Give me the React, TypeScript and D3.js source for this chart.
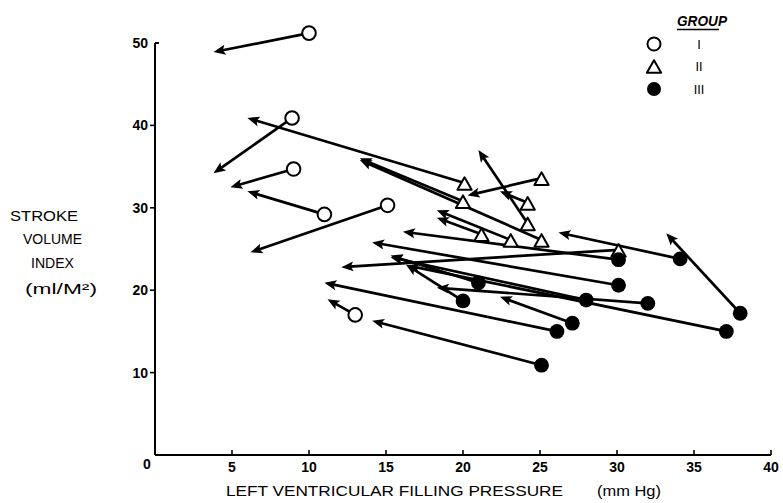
import React from "react";
import * as d3 from "d3";

// Group I (open circles): [pressure, SVI] start -> end
const groupIFrom: [number, number][] = [
  [10, 51.2], [8.9, 40.9], [9, 34.7], [11, 29.2], [15.1, 30.3], [13, 17],
];
const groupITo: [number, number][] = [
  [3.8, 48.9], [3.8, 34.2], [4.9, 32.5], [6, 32], [6.2, 24.6], [11.2, 18.9],
];
// Group II (open triangles)
const groupIIFrom: [number, number][] = [
  [20.1, 33], [25.1, 33.6], [20, 30.8], [24.2, 30.6], [24.2, 28.1],
  [21.2, 26.8], [23.1, 26.1], [25.1, 26.1], [30.1, 24.9],
];
const groupIITo: [number, number][] = [
  [6, 40.9], [20.3, 31.5], [13.3, 36], [22.4, 32], [21, 37],
  [18.3, 28.8], [18.3, 29.7], [13.3, 35.8], [12.1, 22.8],
];
// Group III (filled circles)
const groupIIIFrom: [number, number][] = [
  [30.1, 23.7], [30.1, 20.6], [34.1, 23.8], [38, 17.2], [25.1, 10.9], [26.1, 15],
  [27.1, 16], [32, 18.4], [37.1, 15], [28, 18.8], [21, 20.9], [20, 18.7],
];
const groupIIITo: [number, number][] = [
  [16.1, 27.1], [14.1, 25.8], [26.2, 27], [33.2, 26.9], [14.1, 16.3], [11, 20.9],
  [22.4, 19.2], [18.3, 20.3], [16.4, 23], [15.3, 24], [15.3, 24.2], [16.3, 23.1],
];

const xTicks = [0, 5, 10, 15, 20, 25, 30, 35, 40];
const yTicks = [10, 20, 30, 40, 50];
const legendLabels = ["I", "II", "III"];
const yTitleLines = ["STROKE", "VOLUME", "INDEX", "(ml/M²)"];

const W = 783, H = 503;
const x = d3.scaleLinear().domain([0, 40]).range([155, 771]);
const y = d3.scaleLinear().domain([0, 50]).range([455, 43]);

const FONT = "'Liberation Sans', Arial, sans-serif";

function Arrow({ from, to }: { from: [number, number]; to: [number, number] }) {
  const x1 = x(from[0]), y1 = y(from[1]);
  const x2 = x(to[0]), y2 = y(to[1]);
  const a = Math.atan2(y2 - y1, x2 - x1);
  const L = 12, Wd = 5;
  const c = Math.cos(a), s = Math.sin(a);
  const bx = x2 - L * c, by = y2 - L * s;
  const px = -s, py = c;
  const pts = [
    [x2, y2],
    [bx + px * Wd, by + py * Wd],
    [bx + 2.5 * c, by + 2.5 * s],
    [bx - px * Wd, by - py * Wd],
  ];
  return (
    <g>
      <line x1={x1} y1={y1} x2={bx + 4 * c} y2={by + 4 * s} stroke="#000" strokeWidth={2.7} />
      <polygon points={pts.map((p) => p.join(",")).join(" ")} fill="#000" />
    </g>
  );
}

function Tri({ cx, cy }: { cx: number; cy: number }) {
  const s = 6.8;
  const p = d3.path();
  p.moveTo(cx, cy - s);
  p.lineTo(cx + s * 1.05, cy + s * 0.85);
  p.lineTo(cx - s * 1.05, cy + s * 0.85);
  p.closePath();
  return <path d={p.toString()} fill="#fff" stroke="#000" strokeWidth={2} strokeLinejoin="round" />;
}

export default function App() {
  return (
    <svg width={W} height={H} style={{ position: "absolute", left: 0, top: 0, background: "#fff" }}>
      <rect width={W} height={H} fill="#fff" />
      {/* axes */}
      <line x1={x(0)} y1={y(0)} x2={x(40)} y2={y(0)} stroke="#000" strokeWidth={2} />
      <line x1={x(0)} y1={y(0)} x2={x(0)} y2={y(50)} stroke="#000" strokeWidth={2} />
      <line x1={x(0)} y1={y(50)} x2={x(0) + 4} y2={y(50)} stroke="#000" strokeWidth={2} />
      {xTicks.slice(1).map((t) => (
        <line key={"xt" + t} x1={x(t)} y1={y(0)} x2={x(t)} y2={y(0) - 5} stroke="#000" strokeWidth={1.6} />
      ))}
      {yTicks.slice(0, 4).map((t) => (
        <line key={"yt" + t} x1={x(0)} y1={y(t)} x2={x(0) - 5} y2={y(t)} stroke="#000" strokeWidth={1.6} />
      ))}
      {xTicks.map((t) => (
        <text key={"xl" + t} x={t === 0 ? x(0) - 8 : x(t)} y={t === 0 ? 469 : 472} textAnchor="middle"
          fontFamily={FONT} fontSize={14} fontWeight="bold">{t}</text>
      ))}
      {yTicks.map((t) => (
        <text key={"yl" + t} x={148} y={y(t) + 5} textAnchor="end" fontFamily={FONT} fontSize={14} fontWeight="bold">{t}</text>
      ))}
      {/* axis titles */}
      <text x={226} y={496} fontFamily={FONT} fontSize={15} textLength={337} lengthAdjust="spacingAndGlyphs">LEFT VENTRICULAR FILLING PRESSURE</text>
      <text x={597} y={496} fontFamily={FONT} fontSize={15} textLength={64} lengthAdjust="spacingAndGlyphs">(mm Hg)</text>
      {yTitleLines.map((s, i) => {
        const xs = [10, 23, 31, 25][i];
        const ws = [68, 59, 43, 72][i];
        const ys = [221, 244, 268, 294][i];
        return (
          <text key={s} x={xs} y={ys} fontFamily={FONT} fontSize={15} textLength={ws} lengthAdjust="spacingAndGlyphs">{s}</text>
        );
      })}
      {/* arrows */}
      {groupIFrom.map((f, i) => <Arrow key={"a1" + i} from={f} to={groupITo[i]} />)}
      {groupIIFrom.map((f, i) => <Arrow key={"a2" + i} from={f} to={groupIITo[i]} />)}
      {groupIIIFrom.map((f, i) => <Arrow key={"a3" + i} from={f} to={groupIIITo[i]} />)}
      {/* markers */}
      {groupIFrom.map((f, i) => (
        <circle key={"c1" + i} cx={x(f[0])} cy={y(f[1])} r={6.8} fill="#fff" stroke="#000" strokeWidth={2} />
      ))}
      {groupIIFrom.map((f, i) => <Tri key={"t" + i} cx={x(f[0])} cy={y(f[1]) + 1} />)}
      {groupIIIFrom.map((f, i) => (
        <circle key={"c3" + i} cx={x(f[0])} cy={y(f[1])} r={7.4} fill="#000" />
      ))}
      {/* legend */}
      <text x={677} y={26} fontFamily={FONT} fontSize={14} fontWeight="bold" fontStyle="italic" textLength={50} lengthAdjust="spacingAndGlyphs">GROUP</text>
      <line x1={677} y1={29.5} x2={719} y2={29.5} stroke="#000" strokeWidth={1.5} />
      <circle cx={654} cy={44} r={6.5} fill="#fff" stroke="#000" strokeWidth={2} />
      <Tri cx={654} cy={67} />
      <circle cx={654} cy={89} r={7} fill="#000" />
      {legendLabels.map((s, i) => (
        <text key={s} x={699} y={[49, 71, 94][i]} textAnchor="middle" fontFamily="'DejaVu Sans', sans-serif"
          fontSize={12} fill="#000">{s}</text>
      ))}
    </svg>
  );
}
